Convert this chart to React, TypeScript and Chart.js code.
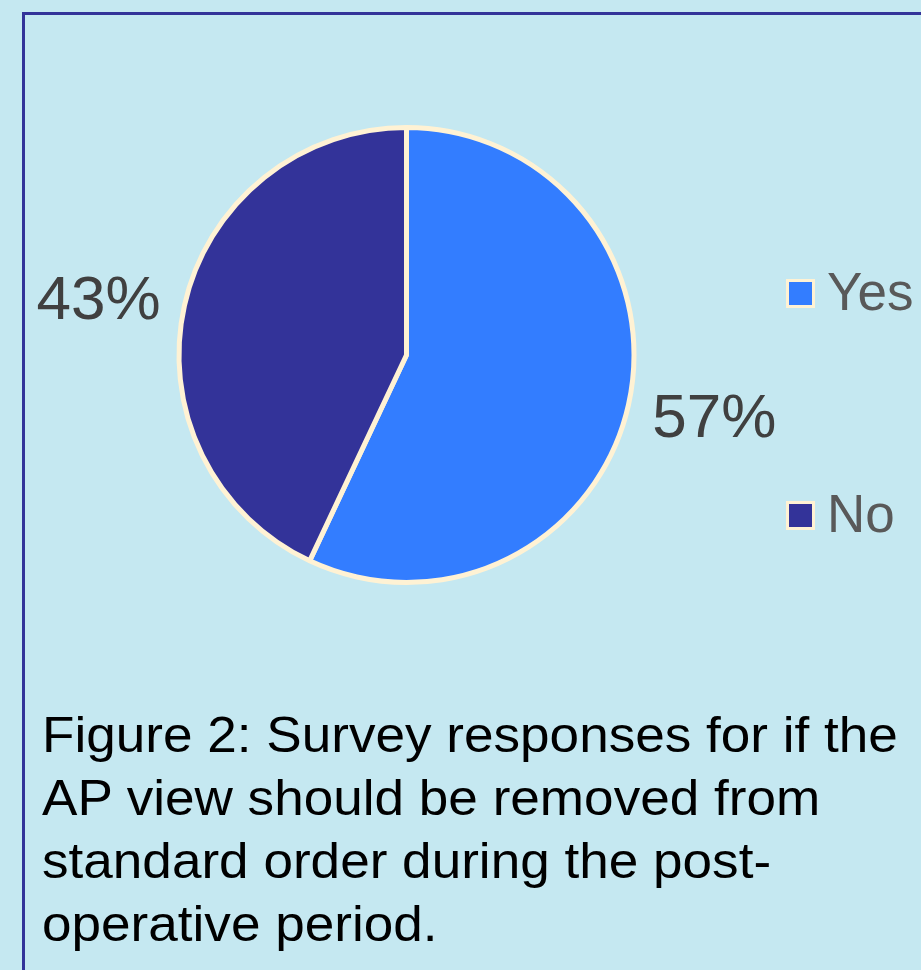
import React, { useEffect, useRef } from "react";
import { Chart, registerables } from "chart.js";

Chart.register(...registerables);

const categories = ["Yes", "No"];
const values = [57, 43];
const sliceColors = ["#337DFF", "#333399"];
const captionLines = [
  "Figure 2: Survey responses for if the",
  "AP view should be removed from",
  "standard order during the post-",
  "operative period.",
];

const FONT = '"Liberation Sans", Arial, sans-serif';
const CREAM = "#FFF2D4";

const overlayPlugin = {
  id: "overlay",
  afterDatasetsDraw(chart: any) {
    const ctx = chart.ctx;
    const meta = chart.getDatasetMeta(0);
    const total = values.reduce((a, b) => a + b, 0);
    ctx.save();
    // percentage labels
    ctx.font = `62px ${FONT}`;
    ctx.fillStyle = "#404040";
    ctx.textAlign = "center";
    ctx.textBaseline = "alphabetic";
    meta.data.forEach((arc: any, i: number) => {
      const mid = (arc.startAngle + arc.endAngle) / 2;
      const dist = arc.outerRadius + 88;
      const x = arc.x + Math.cos(mid) * dist;
      const y = arc.y + Math.sin(mid) * dist * 0.85;
      const pct = Math.round((values[i] / total) * 100) + "%";
      ctx.fillText(pct, x, y + 23);
    });
    // legend
    const legendX = 786;
    const legendYs = [293.5, 515.5];
    categories.forEach((cat, i) => {
      const cy = legendYs[i];
      ctx.fillStyle = CREAM;
      ctx.fillRect(legendX, cy - 14.5, 29, 29);
      ctx.fillStyle = sliceColors[i];
      ctx.fillRect(legendX + 3, cy - 11.5, 23, 23);
      ctx.font = `53px ${FONT}`;
      ctx.fillStyle = "#595959";
      ctx.textAlign = "left";
      ctx.fillText(cat, 827, cy + 16);
    });
    ctx.restore();
  },
};

export default function App() {
  const ref = useRef<HTMLCanvasElement | null>(null);
  useEffect(() => {
    if (!ref.current) return;
    const chart = new Chart(ref.current, {
      type: "pie",
      data: {
        labels: categories,
        datasets: [
          {
            data: values,
            backgroundColor: sliceColors,
            borderColor: CREAM,
            borderWidth: 5,
          },
        ],
      },
      options: {
        animation: false,
        responsive: false,
        maintainAspectRatio: false,
        layout: { padding: { left: 176.5, right: 284.5, top: 125, bottom: 385 } },
        plugins: {
          legend: { display: false },
          tooltip: { enabled: false },
        },
      },
      plugins: [overlayPlugin],
    });
    return () => chart.destroy();
  }, []);

  return (
    <div
      style={{
        position: "fixed",
        left: 0,
        top: 0,
        width: 921,
        height: 970,
        background: "#C5E8F1",
        overflow: "hidden",
      }}
    >
      <div
        style={{
          position: "absolute",
          left: 22,
          top: 12,
          width: 1000,
          height: 1000,
          borderLeft: "3px solid #333399",
          borderTop: "3px solid #333399",
        }}
      />
      <canvas
        ref={ref}
        width={921}
        height={970}
        style={{ position: "absolute", left: 0, top: 0, width: 921, height: 970 }}
      />
      <div
        style={{
          position: "absolute",
          left: 42,
          top: 704,
          fontFamily: FONT,
          fontSize: 50,
          lineHeight: "63px",
          color: "#000",
          whiteSpace: "nowrap",
          transform: "scaleX(1.062)",
          transformOrigin: "left top",
        }}
      >
        {captionLines.map((l, i) => (
          <div key={i}>{l}</div>
        ))}
      </div>
    </div>
  );
}
